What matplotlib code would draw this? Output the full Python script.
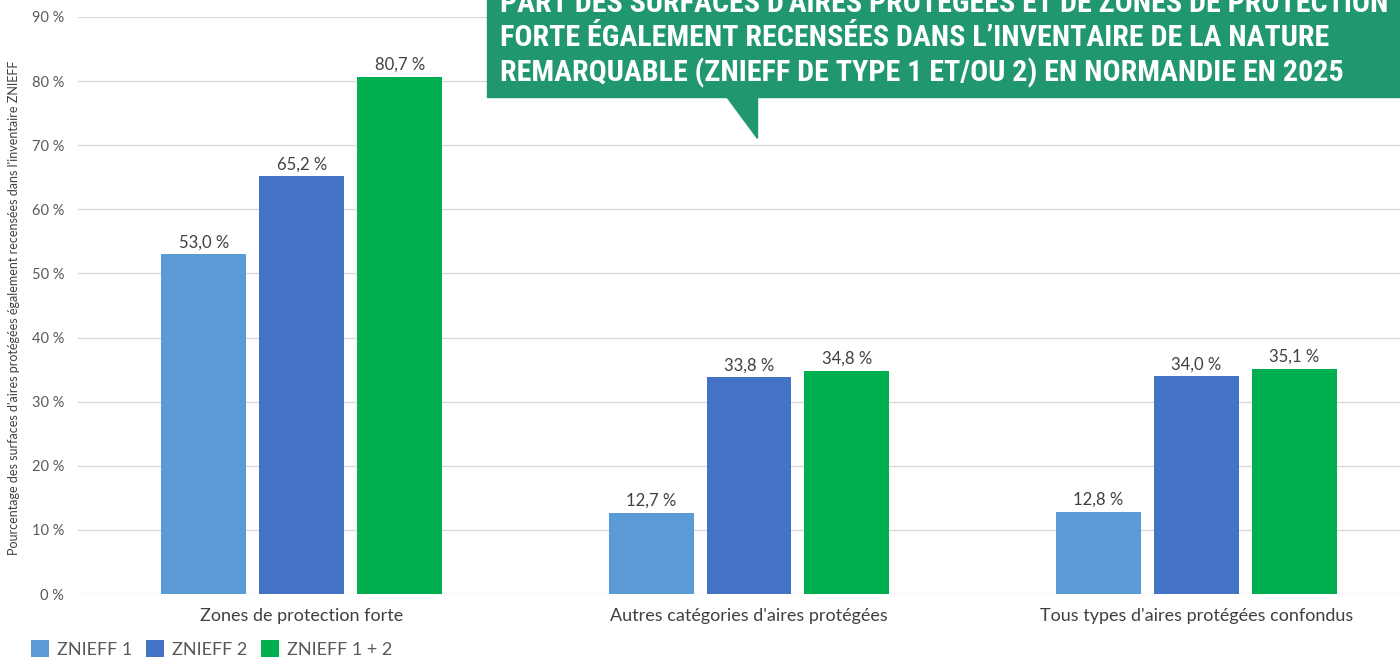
import numpy as np
import matplotlib.pyplot as plt
from matplotlib.patches import Polygon, Rectangle

categories = ["Zones de protection forte", "Autres catégories d'aires protégées",
              "Tous types d'aires protégées confondus"]
series_names = ["ZNIEFF 1", "ZNIEFF 2", "ZNIEFF 1 + 2"]
znieff1 = [53.0, 12.7, 12.8]
znieff2 = [65.2, 33.8, 34.0]
znieff12 = [80.7, 34.8, 35.1]
yticks = [0, 10, 20, 30, 40, 50, 60, 70, 80, 90]
title_lines = ["PART DES SURFACES D'AIRES PROTÉGÉES ET DE ZONES DE PROTECTION",
               "FORTE ÉGALEMENT RECENSÉES DANS L\u2019INVENTAIRE DE LA NATURE",
               "REMARQUABLE (ZNIEFF DE TYPE 1 ET/OU 2) EN NORMANDIE EN 2025"]

colors = ["#5b9bd5", "#4472c4", "#00b050"]
W, H = 1400, 659

plt.rcParams['font.family'] = ['Lato', 'DejaVu Sans']
fig = plt.figure(figsize=(W / 100, H / 100), dpi=100)
# axes runs a bit past the right edge, as in the reference
ax = fig.add_axes([78 / W, 65 / H, (1420 - 78) / W, (594 - 17) / H])

x = np.arange(len(categories))
width = 0.19
step = 0.219
for i, (vals, name) in enumerate(zip([znieff1, znieff2, znieff12], series_names)):
    bars = ax.bar(x + (i - 1) * step, vals, width, color=colors[i], label=name, zorder=3)
    for b, v in zip(bars, vals):
        ax.text(b.get_x() + b.get_width() / 2, v + 0.6, f"{v:.1f} %".replace(".", ","),
                ha='center', va='bottom', fontsize=12, color='#404040')

ax.set_xlim(-0.5, 2.5)
ax.set_ylim(0, 90)
ax.set_yticks(yticks)
ax.set_yticklabels([f"{t} %" for t in yticks], fontsize=10.5, color='#595959')
ax.set_xticks(x)
ax.set_xticklabels(categories, fontsize=13, color='#404040')
ax.tick_params(axis='both', length=0)
ax.tick_params(axis='y', pad=10)
ax.tick_params(axis='x', pad=10)
ax.grid(axis='y', color='#d9d9d9', linewidth=1, zorder=0)
for s in ax.spines.values():
    s.set_visible(False)

fig.text(14 / W, 0.533, "Pourcentage des surfaces d'aires protégées également recensées dans l'inventaire ZNIEFF",
         rotation=90, ha='center', va='center', fontsize=9, color='#404040')

leg = fig.legend(loc='lower left', bbox_to_anchor=(15 / W, -15 / H), ncol=3, frameon=False,
                 fontsize=13, handlelength=1.0, handleheight=1.0, columnspacing=0.75,
                 handletextpad=0.45, labelcolor='#595959')

# title callout box
green = "#21976f"
fig.patches.append(Rectangle((487 / W, 1 - 97 / H), (W - 487) / W, 97 / H + 0.01,
                             transform=fig.transFigure, color=green, zorder=5))
fig.patches.append(Polygon([(726 / W, 1 - 96 / H), (757 / W, 1 - 96 / H), (757 / W, 1 - 138 / H)],
                           closed=True, transform=fig.transFigure, color=green, zorder=5))
for line, base in zip(title_lines, [12, 46, 81]):
    fig.text(500 / W, 1 - base / H, line, ha='left', va='baseline', fontsize=21.6,
             fontweight='bold', fontstretch='condensed', color='white', zorder=6,
             family=['Roboto Condensed', 'DejaVu Sans'])

fig.savefig("out.png", dpi=100)
